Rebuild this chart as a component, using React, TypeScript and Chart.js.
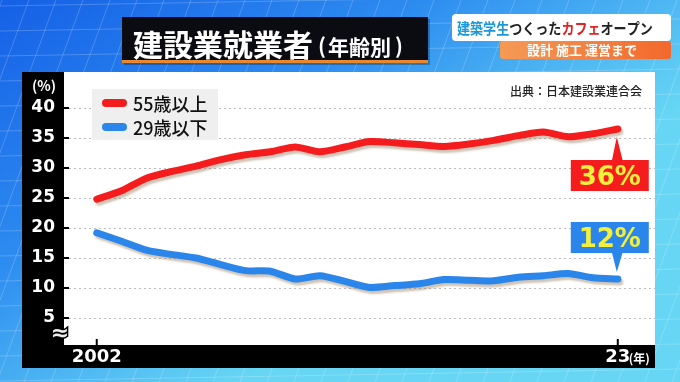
import React, { useEffect, useRef } from 'react';
import { Chart, registerables } from 'chart.js';

Chart.register(...registerables);

// ---- data ----
const years = [2002, 2003, 2004, 2005, 2006, 2007, 2008, 2009, 2010, 2011, 2012, 2013, 2014, 2015, 2016, 2017, 2018, 2019, 2020, 2021, 2022, 2023];
const over55 = [24.8, 26.2, 28.3, 29.4, 30.3, 31.4, 32.2, 32.7, 33.5, 32.7, 33.5, 34.4, 34.2, 33.9, 33.6, 34.0, 34.6, 35.4, 36.0, 35.2, 35.7, 36.5];
const under29 = [19.2, 17.8, 16.3, 15.6, 15.0, 13.9, 12.9, 12.8, 11.5, 12.05, 11.1, 10.1, 10.4, 10.7, 11.4, 11.3, 11.2, 11.8, 12.05, 12.4, 11.7, 11.5];
const seriesLabels = ['55歳以上', '29歳以下'];
const yTickValues = [5, 10, 15, 20, 25, 30, 35, 40];
const xTickValues = [2002, 2023];
const xTickLabels = ['2002', '23'];
const calloutLabels = ['36%', '12%'];
const titleMain = '建設業就業者';
const titleSub = '年齢別';
const sourceText = '出典：日本建設業連合会';
const yUnit = '(%)';
const xUnit = '(年)';

const RED = '#f41c1c';
const BLUE = '#2a86ea';
const CJK = '"Noto Sans CJK JP", sans-serif';

const bgPlugin = {
  id: 'bgPlugin',
  beforeDraw(chart: any) {
    const { ctx, chartArea: ca, width, height } = chart;
    const ys = chart.scales.y;
    const xs = chart.scales.x;
    ctx.save();
    const g = ctx.createLinearGradient(0, 0, width * 0.35, height);
    g.addColorStop(0, '#1560e6');
    g.addColorStop(0.5, '#2d8cf0');
    g.addColorStop(1, '#66d6f4');
    ctx.fillStyle = g;
    ctx.fillRect(0, 0, width, height);
    ctx.strokeStyle = 'rgba(255,255,255,0.2)';
    ctx.lineWidth = 1;
    for (let x = -300; x < width + 200; x += 27) {
      ctx.beginPath();
      ctx.moveTo(x, height);
      ctx.lineTo(x + 140, 0);
      ctx.stroke();
    }
    for (let y = 6; y < height + 20; y += 25) {
      ctx.beginPath();
      ctx.moveTo(0, y);
      ctx.lineTo(width, y - 12);
      ctx.stroke();
    }
    // black frame
    ctx.fillStyle = '#000';
    ctx.fillRect(ys.left, ca.top, ca.right - ys.left, xs.bottom - ca.top);
    ctx.fillStyle = '#fff';
    ctx.fillRect(ca.left, ca.top, ca.right - ca.left, ca.bottom - ca.top);
    ctx.restore();
  },
};

const shadowPlugin = {
  id: 'shadowPlugin',
  beforeDatasetDraw(chart: any) {
    const ctx = chart.ctx;
    ctx.save();
    ctx.shadowColor = 'rgba(150,125,95,0.45)';
    ctx.shadowOffsetX = 2;
    ctx.shadowOffsetY = 3;
    ctx.shadowBlur = 2;
  },
  afterDatasetDraw(chart: any) {
    chart.ctx.restore();
  },
};

function pill(ctx: CanvasRenderingContext2D, x1: number, x2: number, y: number, w: number, color: string) {
  ctx.save();
  ctx.strokeStyle = color;
  ctx.lineWidth = w;
  ctx.lineCap = 'round';
  ctx.beginPath();
  ctx.moveTo(x1, y);
  ctx.lineTo(x2, y);
  ctx.stroke();
  ctx.restore();
}

const overlayPlugin = {
  id: 'overlayPlugin',
  afterDraw(chart: any) {
    const { ctx, chartArea: ca } = chart;
    const ys = chart.scales.y;
    const xs = chart.scales.x;
    ctx.save();

    // tick marks inside plot
    ctx.strokeStyle = '#000';
    ctx.lineWidth = 2;
    yTickValues.forEach((v) => {
      const py = ys.getPixelForValue(v);
      ctx.beginPath();
      ctx.moveTo(ca.left, py);
      ctx.lineTo(ca.left + 5, py);
      ctx.stroke();
    });
    xTickValues.forEach((v) => {
      const px = xs.getPixelForValue(v);
      ctx.beginPath();
      ctx.moveTo(px, ca.bottom);
      ctx.lineTo(px, ca.bottom - 6);
      ctx.stroke();
    });

    // axis break symbol
    ctx.font = 'bold 22px "DejaVu Sans"';
    ctx.textAlign = 'center';
    ctx.textBaseline = 'middle';
    ctx.lineWidth = 3;
    ctx.strokeStyle = '#000';
    ctx.strokeText('≈', ca.left - 4, ca.bottom - 11);
    ctx.fillStyle = '#eee';
    ctx.fillText('≈', ca.left - 4, ca.bottom - 11);

    // units
    ctx.fillStyle = '#fff';
    ctx.font = `bold 14px ${CJK}`;
    ctx.textBaseline = 'alphabetic';
    ctx.textAlign = 'center';
    ctx.fillText(yUnit, ys.left + 22, ca.top + 19);
    ctx.font = `bold 12px ${CJK}`;
    ctx.textAlign = 'left';
    ctx.fillText(xUnit, xs.getPixelForValue(2023) + 11, xs.top + 18);

    // legend
    const lx = ca.left + 28;
    const ly = ca.top + 17;
    ctx.fillStyle = '#efefef';
    ctx.fillRect(lx, ly, 126, 51);
    chart.data.datasets.forEach((ds: any, i: number) => {
      const cy = ly + 14 + i * 24;
      pill(ctx, lx + 14, lx + 31, cy, 8, ds.borderColor);
      ctx.fillStyle = '#111';
      ctx.font = `500 18px ${CJK}`;
      ctx.textAlign = 'left';
      ctx.textBaseline = 'alphabetic';
      ctx.fillText(ds.label, lx + 41, cy + 8);
    });

    // source
    ctx.fillStyle = '#222';
    ctx.font = `500 12px ${CJK}`;
    ctx.textAlign = 'left';
    ctx.fillText(sourceText, 510, ca.top + 24);

    // callouts
    const drawCallout = (i: number, color: string, above: boolean) => {
      const meta = chart.getDatasetMeta(i);
      const pt = meta.data[meta.data.length - 1];
      const bx = pt.x - 47;
      const bw = 78;
      const bh = 31;
      let by: number;
      ctx.fillStyle = color;
      ctx.beginPath();
      if (!above) {
        by = pt.y + 31;
        ctx.moveTo(pt.x - 6, by + 1);
        ctx.lineTo(pt.x - 1, pt.y + 8);
        ctx.lineTo(pt.x + 5, by + 1);
      } else {
        by = pt.y - 57;
        ctx.moveTo(pt.x - 6, by + bh - 1);
        ctx.lineTo(pt.x - 1, pt.y - 7);
        ctx.lineTo(pt.x + 5, by + bh - 1);
      }
      ctx.closePath();
      ctx.fill();
      ctx.fillRect(bx, by, bw, bh);
      ctx.fillStyle = '#f3f03c';
      ctx.font = 'bold 26px "DejaVu Sans"';
      ctx.textAlign = 'center';
      ctx.textBaseline = 'alphabetic';
      ctx.fillText(calloutLabels[i], bx + bw / 2, by + bh - 6);
    };
    drawCallout(0, RED, false);
    drawCallout(1, BLUE, true);

    // title box
    ctx.fillStyle = 'rgba(0,0,0,0.25)';
    ctx.fillRect(124, 19, 306, 46);
    ctx.fillStyle = '#0b0b12';
    ctx.fillRect(122, 17, 306, 46);
    ctx.fillStyle = '#e8882e';
    ctx.fillRect(122, 60, 306, 3);
    ctx.fillStyle = '#fff';
    ctx.textAlign = 'left';
    ctx.textBaseline = 'alphabetic';
    ctx.font = `bold 30px ${CJK}`;
    ctx.fillText(titleMain, 133, 56);
    ctx.font = `bold 21px ${CJK}`;
    ctx.fillText('(', 318, 54);
    ctx.fillText(titleSub, 328, 55);
    ctx.fillText(')', 395, 54);

    // right top badge
    ctx.fillStyle = '#ffffff';
    ctx.beginPath();
    (ctx as any).roundRect(452, 14, 219, 27, 4);
    ctx.fill();
    const og = ctx.createLinearGradient(500, 0, 670, 0);
    og.addColorStop(0, '#f59a55');
    og.addColorStop(1, '#f2692c');
    ctx.fillStyle = og;
    ctx.beginPath();
    (ctx as any).roundRect(500, 41, 171, 18, 3);
    ctx.fill();

    ctx.save();
    ctx.translate(457, 34);
    ctx.scale(0.87, 1);
    ctx.font = `bold 15px ${CJK}`;
    let cx = 0;
    const parts: [string, string][] = [
      ['建築学生', '#1b98d8'],
      ['つくった', '#222'],
      ['カフェ', '#e32222'],
      ['オープン', '#222'],
    ];
    parts.forEach(([t, c]) => {
      ctx.fillStyle = c;
      ctx.fillText(t, cx, 0);
      cx += ctx.measureText(t).width;
    });
    ctx.restore();

    ctx.fillStyle = '#fff';
    ctx.font = `bold 13px ${CJK}`;
    ctx.textAlign = 'center';
    ctx.fillText('設計 施工 運営まで', 582, 55);

    ctx.restore();
  },
};

export default function App() {
  const canvasRef = useRef<HTMLCanvasElement | null>(null);

  useEffect(() => {
    const canvas = canvasRef.current;
    if (!canvas) return;
    const chart = new Chart(canvas, {
      type: 'line',
      data: {
        datasets: [
          {
            label: seriesLabels[0],
            data: years.map((y, i) => ({ x: y, y: over55[i] })),
            borderColor: RED,
            borderWidth: 7,
            pointRadius: 0,
            tension: 0.25,
            borderCapStyle: 'round',
            borderJoinStyle: 'round',
            fill: false,
          },
          {
            label: seriesLabels[1],
            data: years.map((y, i) => ({ x: y, y: under29[i] })),
            borderColor: BLUE,
            borderWidth: 7,
            pointRadius: 0,
            tension: 0.25,
            borderCapStyle: 'round',
            borderJoinStyle: 'round',
            fill: false,
          },
        ],
      },
      options: {
        animation: false,
        responsive: false,
        maintainAspectRatio: false,
        devicePixelRatio: 1,
        layout: { padding: { left: 22, right: 25, top: 72, bottom: 14 } },
        plugins: {
          legend: { display: false },
          tooltip: { enabled: false },
        },
        scales: {
          x: {
            type: 'linear',
            min: 2000.68,
            max: 2024.5,
            afterFit: (s: any) => {
              s.height = 23;
            },
            afterBuildTicks: (s: any) => {
              s.ticks = xTickValues.map((v) => ({ value: v }));
            },
            ticks: {
              color: '#fff',
              font: { family: '"DejaVu Sans"', weight: 'bold', size: 18 },
              padding: 2,
              maxRotation: 0,
              autoSkip: false,
              callback: (v: any) => {
                const idx = xTickValues.indexOf(Number(v));
                return idx >= 0 ? xTickLabels[idx] : '';
              },
            },
            grid: { display: false, drawTicks: false },
            border: { display: false },
          },
          y: {
            type: 'linear',
            min: 0.5,
            max: 46,
            afterFit: (s: any) => {
              s.width = 42;
            },
            afterBuildTicks: (s: any) => {
              s.ticks = yTickValues.map((v) => ({ value: v }));
            },
            ticks: {
              color: '#fff',
              font: { family: '"DejaVu Sans"', weight: 'bold', size: 17 },
              padding: 9,
            },
            grid: { color: '#bcbcbc', lineWidth: 1, drawTicks: false },
            border: { display: false, dash: [2, 3] },
          },
        },
      } as any,
      plugins: [bgPlugin, shadowPlugin, overlayPlugin],
    });
    return () => chart.destroy();
  }, []);

  return (
    <div style={{ position: 'fixed', left: 0, top: 0, width: 680, height: 382 }}>
      <canvas ref={canvasRef} width={680} height={382} style={{ display: 'block', width: 680, height: 382 }} />
    </div>
  );
}
